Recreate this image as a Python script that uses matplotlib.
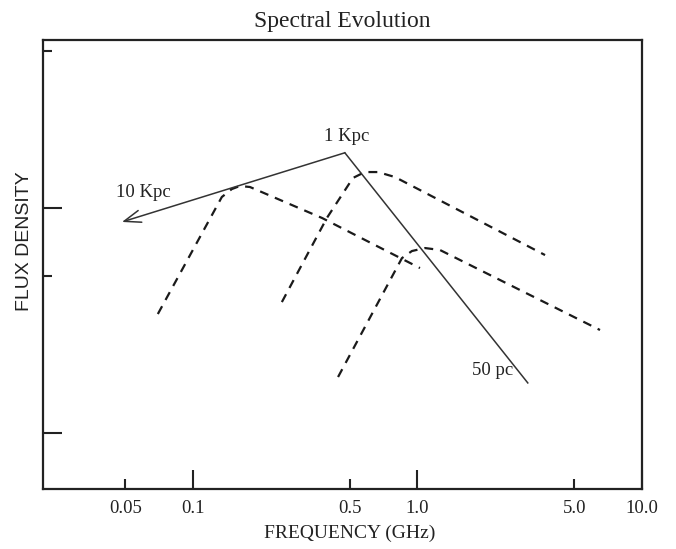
import matplotlib
matplotlib.use("Agg")
import matplotlib.pyplot as plt
from matplotlib.ticker import FixedLocator, FixedFormatter, NullFormatter

# ---- data ----
solid_x = [0.475, 3.10]          # peak -> 50 pc end
solid_y = [17.6, 1.67]
arrow_tip = (0.0483, 8.67)       # 10 Kpc arrow tip
arrow_tail = (0.475, 17.6)

curve1_x = [0.0698, 0.1345, 0.149, 0.162, 0.1795, 0.376, 1.026]
curve1_y = [3.38, 11.19, 12.14, 12.53, 12.40, 9.03, 5.41]

curve2_x = [0.249, 0.395, 0.516, 0.583, 0.667, 0.794, 3.70]
curve2_y = [3.82, 9.03, 13.6, 14.45, 14.45, 13.73, 6.18]

curve3_x = [0.443, 0.853, 0.945, 1.080, 1.259, 6.50]
curve3_y = [1.774, 5.99, 6.44, 6.64, 6.51, 2.87]

labels = ["1 Kpc", "10 Kpc", "50 pc"]
label_x = [0.485, 0.0599, 2.17]
label_y = [20.7, 11.78, 1.905]

xmajor = [0.1, 1.0, 10.0]
xminor = [0.05, 0.5, 5.0]
xmajor_labels = ["0.1", "1.0", "10.0"]
xminor_labels = ["0.05", "0.5", "5.0"]
ymajor = [1, 10]
yminor = [5, 50]

plt.rcParams['font.family'] = ['Liberation Serif', 'DejaVu Serif']

fig = plt.figure(figsize=(6.76, 5.49), dpi=100)
ax = fig.add_axes([43/676, 1-489/549, (642-43)/676, (489-39.5)/549])
ax.set_xscale('log')
ax.set_yscale('log')
ax.set_xlim(0.0215, 10.0)
ax.set_ylim(0.564, 56.1)

dash_kw = dict(color='#1a1a1a', lw=1.6, linestyle=(0, (4, 3.2)))
ax.plot(curve1_x, curve1_y, **dash_kw)
ax.plot(curve2_x, curve2_y, **dash_kw)
ax.plot(curve3_x, curve3_y, **dash_kw)

ax.plot(solid_x, solid_y, color='#333333', lw=1.1, solid_joinstyle='miter')
ax.annotate('', xy=arrow_tip, xytext=arrow_tail,
            arrowprops=dict(arrowstyle='->,head_length=0.6,head_width=0.22',
                            color='#333333', lw=1.1, shrinkA=0, shrinkB=0,
                            mutation_scale=20))

for t, x, y in zip(labels, label_x, label_y):
    ax.text(x, y, t, ha='center', va='center', fontsize=13.5, color='#222222')

# ticks
ax.xaxis.set_major_locator(FixedLocator(xmajor))
ax.xaxis.set_minor_locator(FixedLocator(xminor))
ax.xaxis.set_major_formatter(FixedFormatter(xmajor_labels))
ax.xaxis.set_minor_formatter(FixedFormatter(xminor_labels))
ax.yaxis.set_major_locator(FixedLocator(ymajor))
ax.yaxis.set_minor_locator(FixedLocator(yminor))
ax.yaxis.set_major_formatter(NullFormatter())
ax.yaxis.set_minor_formatter(NullFormatter())

ax.tick_params(axis='x', which='both', direction='in', top=False, bottom=True,
               width=1.5, labelsize=13.5, pad=8, colors='#222222')
ax.tick_params(axis='x', which='major', length=13.5)
ax.tick_params(axis='x', which='minor', length=7)
ax.tick_params(axis='y', which='both', direction='in', left=True, right=False,
               width=1.5, colors='#222222')
ax.tick_params(axis='y', which='major', length=13.5)
ax.tick_params(axis='y', which='minor', length=6.5)

for s in ax.spines.values():
    s.set_linewidth(1.6)
    s.set_color('#222222')

ax.set_title('Spectral Evolution', fontsize=17, pad=9, color='#222222')
ax.set_xlabel('FREQUENCY (GHz)', fontsize=14, color='#222222', labelpad=4)
ax.xaxis.set_label_coords(0.5125, -0.08)
ax.set_ylabel('FLUX DENSITY', fontsize=14, color='#222222',
              family=['Liberation Sans', 'DejaVu Sans'])
ax.yaxis.set_label_coords(-0.016, 0.552)

fig.savefig('out.png', dpi=100)
